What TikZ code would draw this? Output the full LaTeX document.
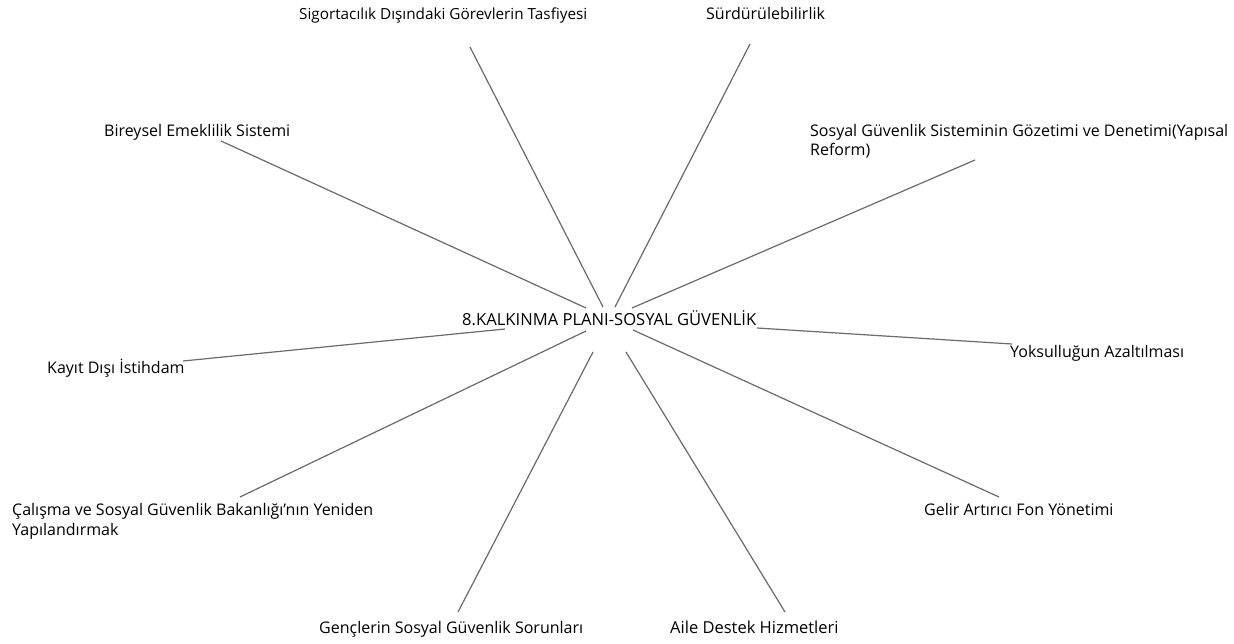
\documentclass[tikz,border=0pt]{standalone}
\usepackage{fontspec}
\setmainfont{Open Sans}
\begin{document}
\begin{tikzpicture}[x=1pt,y=-1pt,
  lbl/.style={anchor=base west,inner sep=0pt,align=left,font=\fontsize{16}{19.5}\selectfont},
  conn/.style={draw=black!58,line width=1.2pt}]
\useasboundingbox[fill=white] (0,0) rectangle (1234,644);
% labels (multi-line nodes: position is the last line's baseline)
\node[lbl,font=\fontsize{16.6}{19.5}\selectfont] (hub) at (462,325) {8.KALKINMA PLANI-SOSYAL GÜVENLİK};
\node[lbl,font=\fontsize{15.3}{19.5}\selectfont] (sig) at (299,20) {Sigortacılık Dışındaki Görevlerin Tasfiyesi};
\node[lbl] (sur) at (706,20) {Sürdürülebilirlik};
\node[lbl] (bir) at (104,137) {Bireysel Emeklilik Sistemi};
\node[lbl] (soz) at (810,156) {Sosyal Güvenlik Sisteminin Gözetimi ve Denetimi(Yapısal\\Reform)};
\node[lbl] (kay) at (47,373) {Kayıt Dışı İstihdam};
\node[lbl] (yok) at (1010,357) {Yoksulluğun Azaltılması};
\node[lbl] (cal) at (12,535) {Çalışma ve Sosyal Güvenlik Bakanlığı’nın Yeniden\\Yapılandırmak};
\node[lbl] (gel) at (924,515) {Gelir Artırıcı Fon Yönetimi};
\node[lbl] (gen) at (319,633) {Gençlerin Sosyal Güvenlik Sorunları};
\node[lbl,font=\fontsize{16.5}{19.5}\selectfont] (ail) at (670,633) {Aile Destek Hizmetleri};
% connector ends
\coordinate (hsig) at (603,307);
\coordinate (esig) at (470,47);
\coordinate (hsur) at (615,307);
\coordinate (esur) at (750,44);
\coordinate (hbir) at (586,308);
\coordinate (ebir) at (221,141);
\coordinate (hsoz) at (632,308);
\coordinate (esoz) at (975,160);
\coordinate (hkay) at (505,329);
\coordinate (ekay) at (183,361);
\coordinate (hyok) at (757,328);
\coordinate (eyok) at (1012,344);
\coordinate (hcal) at (586,331);
\coordinate (ecal) at (240,497);
\coordinate (hgen) at (593,352);
\coordinate (egen) at (458,612);
\coordinate (hail) at (626,352);
\coordinate (eail) at (785,612);
\coordinate (hgel) at (633,330);
\coordinate (egel) at (999,497);
\foreach \k in {sig,sur,bir,soz,kay,yok,cal,gen,ail,gel}
  \draw[conn] (h\k) -- (e\k);
\end{tikzpicture}
\end{document}
